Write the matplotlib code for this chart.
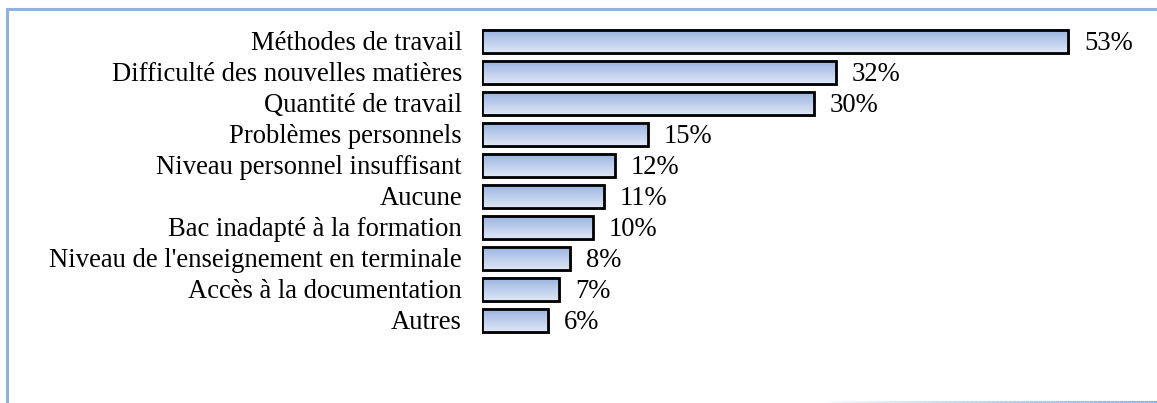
import numpy as np
import matplotlib.pyplot as plt
import matplotlib.transforms as mtransforms
from matplotlib.lines import Line2D
from matplotlib.collections import LineCollection
from matplotlib.colors import LinearSegmentedColormap

categories = [
    "Méthodes de travail",
    "Difficulté des nouvelles matières",
    "Quantité de travail",
    "Problèmes personnels",
    "Niveau personnel insuffisant",
    "Aucune",
    "Bac inadapté à la formation",
    "Niveau de l'enseignement en terminale",
    "Accès à la documentation",
    "Autres",
]
values = [53, 32, 30, 15, 12, 11, 10, 8, 7, 6]
value_labels = [f"{v}%" for v in values]

W, H = 1157, 403
DPI = 100
FRAME = "#8db3e2"
FS = 19.2

plt.rcParams["font.family"] = ["Liberation Serif", "DejaVu Serif"]

fig = plt.figure(figsize=(W / DPI, H / DPI), dpi=DPI)

# axes placed so bars start at x=482 px, rows from y=41 to y=321 px
x0, px_per_unit, xmax = 482, 11.06, 60
top_px, bot_px = 25.5, 336.5
ax = fig.add_axes([x0 / W, 1 - bot_px / H, xmax * px_per_unit / W, (bot_px - top_px) / H])
ax.axis("off")

grad = np.linspace(0, 1, 64).reshape(-1, 1)
cmap = LinearSegmentedColormap.from_list("barg", ["#98b3e0", "#dfe7f6"])

bh = 0.74
ys = np.arange(len(values))
shadow_tr = mtransforms.offset_copy(ax.transData, fig=fig, x=1.5, y=-2, units="dots")
ax.barh(ys, values, height=bh, color="#a0a0a0", edgecolor="none", zorder=1,
        transform=shadow_tr)
for y, v in zip(ys, values):
    ax.imshow(grad, cmap=cmap, aspect="auto", zorder=2,
              extent=[0, v, y + bh / 2, y - bh / 2], interpolation="bilinear")
ax.barh(ys, values, height=bh, facecolor="none", edgecolor="black", linewidth=2.0, zorder=3)
ax.set_xlim(0, xmax)
ax.set_ylim(len(values) - 0.5, -0.5)

for y, v, lab, cat in zip(ys, values, value_labels, categories):
    ax.annotate(lab, (v, y), xytext=(16, -2), textcoords="offset pixels",
                va="center", ha="left", fontsize=FS)
    ax.annotate(cat, (0, y), xytext=(-20, -2), textcoords="offset pixels",
                va="center", ha="right", fontsize=FS, annotation_clip=False)

# frame: top and left lines, fading bottom line
fig.add_artist(Line2D([6.5 / W, 1], [1 - 8.5 / H, 1 - 8.5 / H], color=FRAME, lw=2.2,
                      transform=fig.transFigure))
fig.add_artist(Line2D([6.5 / W, 6.5 / W], [0, 1 - 8.5 / H], color=FRAME, lw=2.2,
                      transform=fig.transFigure))
xs = np.linspace(820, W, 80)
segs = [[(xs[i] / W, 1.5 / H), (xs[i + 1] / W, 1.5 / H)] for i in range(len(xs) - 1)]
alphas = np.linspace(0, 1, len(segs)) ** 0.8
cols = [(0x8d / 255, 0xb3 / 255, 0xe2 / 255, a) for a in alphas]
fig.add_artist(LineCollection(segs, colors=cols, linewidths=2.2, transform=fig.transFigure))

fig.savefig("out.png", dpi=DPI)
